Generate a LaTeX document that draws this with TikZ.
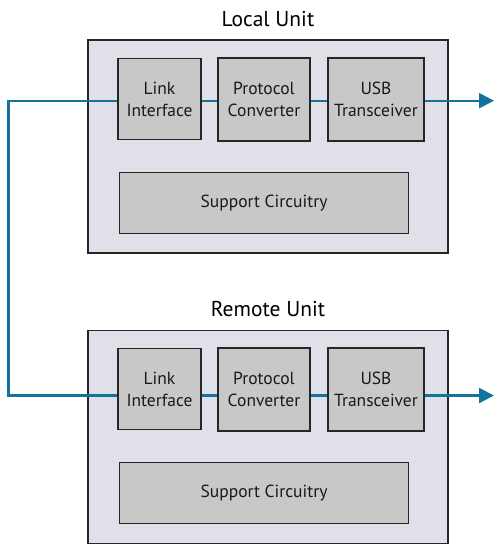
\documentclass[tikz,border=0pt]{standalone}
\usepackage{fontspec}
\setmainfont{PT Sans}
\usetikzlibrary{arrows.meta}
\definecolor{outerfill}{RGB}{224,224,232}
\definecolor{innerfill}{RGB}{200,200,200}
\definecolor{linkblue}{RGB}{20,115,155}
\tikzset{
  outerbox/.style={draw=black!85, line width=1.2pt, fill=outerfill, minimum width=360pt, minimum height=213pt, inner sep=0pt},
  blockbox/.style={draw=black!85, line width=1.2pt, fill=innerfill, inner sep=0pt, align=center, font=\fontsize{17.5}{22}\selectfont, text=black!90},
  titletext/.style={font=\fontsize{21.5}{25}\selectfont, text=black},
  wire/.style={draw=linkblue, line width=2.2pt},
  outwire/.style={wire, -{Triangle[length=15pt,width=15pt]}}
}
\begin{document}
\begin{tikzpicture}[x=1pt,y=-1pt]
\useasboundingbox (0,0) rectangle (495,546);
% Local unit
\node[titletext] (t1) at (268,19) {Local Unit};
\node[outerbox] (o1) at (268,146.5) {};
\node[blockbox, minimum width=83pt, minimum height=81pt] (li1) at (159.5,99) {Link\\Interface};
\node[blockbox, minimum width=92pt, minimum height=83pt] (pc1) at (264,99.5) {Protocol\\Converter};
\node[blockbox, minimum width=96pt, minimum height=83pt] (usb1) at (376,99.5) {USB\\Transceiver};
\node[blockbox, minimum width=289pt, minimum height=61pt] (sc1) at (264,203) {Support Circuitry};
% Remote unit
\node[titletext] (t2) at (268,309) {Remote Unit};
\node[outerbox] (o2) at (268,437) {};
\node[blockbox, minimum width=83pt, minimum height=81pt] (li2) at (159.5,389) {Link\\Interface};
\node[blockbox, minimum width=92pt, minimum height=83pt] (pc2) at (264,389.5) {Protocol\\Converter};
\node[blockbox, minimum width=96pt, minimum height=83pt] (usb2) at (376,389.5) {USB\\Transceiver};
\node[blockbox, minimum width=289pt, minimum height=61pt] (sc2) at (264,493) {Support Circuitry};
% wires
\coordinate (l1) at (0,100.7);
\coordinate (l2) at (0,395.5);
\coordinate (corner1) at (8.5,100.7);
\coordinate (corner2) at (8.5,395.5);
\coordinate (end1) at (494,100.7);
\coordinate (end2) at (494,395.5);
\draw[wire] (li1.west |- l1) -- (corner1) -- (corner2) -- (li2.west |- l2);
\draw[wire] (li1.east |- l1) -- (pc1.west |- l1);
\draw[wire] (pc1.east |- l1) -- (usb1.west |- l1);
\draw[outwire] (usb1.east |- l1) -- (end1);
\draw[wire] (li2.east |- l2) -- (pc2.west |- l2);
\draw[wire] (pc2.east |- l2) -- (usb2.west |- l2);
\draw[outwire] (usb2.east |- l2) -- (end2);
\end{tikzpicture}
\end{document}
